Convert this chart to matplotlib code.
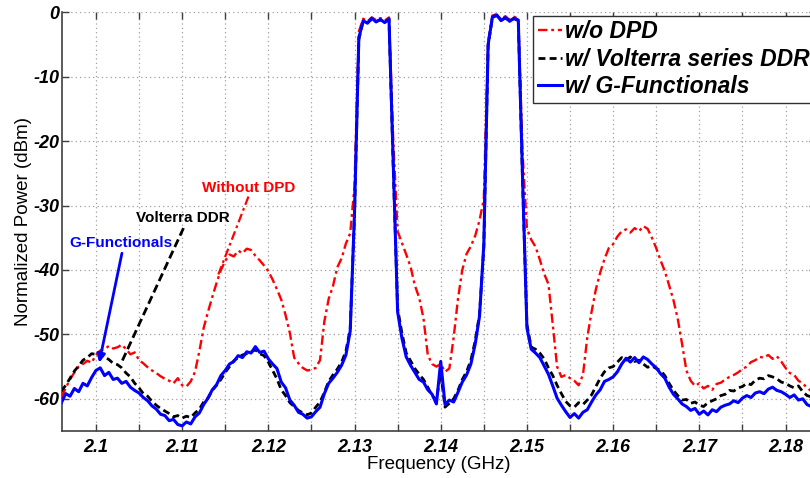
import numpy as np
import matplotlib
matplotlib.use("Agg")
import matplotlib.pyplot as plt

# Sweep grid of the spectrum analyser (GHz), 0.5 MHz steps
freq_start = 2.096
freq_step = 0.0005

# Measured output spectra (dBm, normalized), one row per 5 MHz
without_dpd = [
    -59.8, -58.3, -57.0, -55.9, -55.0, -54.6, -54.1, -54.4,
    -53.2, -52.5, -52.3, -51.8, -52.2, -52.0, -51.6, -52.3, -53.1, -52.8,
    -54.0, -54.5, -55.1, -55.6, -56.0, -56.5, -56.9, -57.2, -57.6, -56.8,
    -57.9, -58.1, -57.3, -55.8, -52.6, -49.0, -46.5, -44.2, -42.0, -40.0,
    -38.6, -37.6, -37.9, -37.0, -37.4, -36.7, -36.9, -37.8, -38.5, -39.3,
    -40.2, -41.5, -43.0, -44.6, -47.0, -49.8, -53.6, -54.5, -55.2, -55.6,
    -55.5, -55.2, -54.0, -48.0, -44.5, -42.5, -39.6, -38.2, -35.9, -34.3,
    -27.0, -3.0, -1.0, -1.4, -0.8, -1.2, -0.9, -1.3, -0.8, -20.0,
    -34.0, -35.8, -37.6, -39.5, -42.4, -44.3, -47.5, -53.2, -54.6, -55.0,
    -54.6, -55.8, -55.3, -50.5, -44.5, -40.0, -37.5, -36.3, -34.7, -32.3,
    -29.0, -4.5, -0.5, -0.3, -1.1, -0.6, -1.2, -0.7, -1.0, -22.0,
    -33.5, -35.3, -36.4, -38.4, -40.6, -42.2, -48.5, -55.0, -56.6, -56.3,
    -56.8, -57.2, -57.9, -56.3, -50.5, -46.5, -43.0, -40.4, -38.3, -36.6,
    -36.0, -34.8, -34.0, -33.7, -34.2, -33.5, -34.0, -33.2, -33.6, -35.0,
    -36.6, -38.5, -40.2, -42.4, -44.7, -47.6, -51.5, -55.6, -57.2, -58.0,
    -57.6, -58.4, -58.0, -58.6, -57.7, -57.5, -57.0, -56.6, -56.3, -55.9,
    -55.4, -55.0, -54.3, -54.0, -53.5, -53.6, -53.2, -53.8, -53.4, -54.2,
    -55.2, -56.0, -56.3, -57.2, -57.6, -58.3, -58.8, -59.4,
]

volterra_ddr = [
    -58.8, -57.9, -56.8, -55.7, -54.9, -54.0, -53.6, -53.0,
    -53.1, -52.8, -53.5, -53.9, -54.5, -54.7, -55.2, -56.0, -56.6, -57.6,
    -58.3, -59.2, -59.6, -60.4, -61.0, -61.5, -61.9, -62.3, -62.8, -62.6,
    -63.0, -62.7, -62.9, -62.2, -61.6, -60.5, -59.9, -58.7, -57.9, -57.0,
    -55.9, -55.0, -54.1, -53.6, -53.2, -53.0, -52.7, -52.4, -53.0, -53.3,
    -54.3, -55.6, -56.9, -58.6, -59.5, -60.6, -61.2, -61.8, -62.2, -62.5,
    -62.2, -61.3, -60.5, -59.0, -57.3, -56.3, -55.4, -54.3, -52.6, -49.2,
    -31.5, -4.2, -1.4, -1.6, -1.1, -1.4, -1.2, -1.5, -1.1, -24.5,
    -46.0, -49.8, -52.9, -54.1, -55.3, -56.2, -57.0, -58.2, -59.5, -60.2,
    -56.0, -61.3, -60.7, -60.0, -58.7, -57.0, -55.8, -54.0, -51.0, -46.9,
    -36.5, -5.2, -0.8, -0.5, -1.2, -0.9, -1.3, -1.0, -1.3, -26.5,
    -48.5, -52.0, -52.3, -52.9, -53.8, -55.2, -56.4, -57.9, -59.2, -60.4,
    -61.1, -61.3, -60.6, -60.9, -60.2, -59.4, -58.1, -56.8, -55.8, -55.2,
    -55.0, -54.3, -53.6, -54.0, -53.5, -54.2, -54.0, -54.6, -55.1, -54.9,
    -55.3, -55.6, -56.4, -57.6, -58.7, -59.5, -60.2, -60.1, -60.7, -60.5,
    -61.0, -61.2, -60.6, -60.3, -60.0, -59.5, -59.3, -58.7, -58.8, -58.3,
    -58.1, -57.6, -57.8, -57.1, -56.8, -56.9, -56.4, -56.6, -56.9, -57.4,
    -57.6, -58.0, -58.3, -58.0, -58.9, -59.5, -59.7, -60.3,
]

g_functionals = [
    -60.6, -59.2, -59.6, -58.4, -58.9, -57.6, -58.0, -56.7,
    -55.6, -55.2, -56.4, -55.9, -57.0, -56.8, -57.6, -57.3, -58.2, -58.7,
    -59.1, -59.8, -60.3, -61.1, -61.6, -62.4, -62.6, -63.4, -63.2, -64.0,
    -64.2, -63.6, -63.9, -62.8, -62.2, -60.9, -59.9, -58.6, -57.8, -56.4,
    -55.6, -54.6, -54.2, -53.3, -53.6, -52.7, -52.9, -51.9, -52.8, -52.6,
    -53.8, -54.6, -55.3, -57.4, -58.3, -60.2, -61.0, -62.1, -62.4, -63.0,
    -62.8, -62.0, -61.3, -59.2, -57.6, -56.8, -55.9, -54.8, -53.2, -49.5,
    -31.0, -4.0, -1.3, -1.7, -0.9, -1.5, -1.1, -1.6, -1.0, -24.0,
    -46.5, -50.6, -53.5, -54.8, -55.9, -57.0, -57.4, -58.6, -59.3, -60.8,
    -54.2, -60.9, -60.2, -60.5, -59.0, -57.4, -56.3, -54.6, -51.5, -47.2,
    -36.0, -5.0, -0.7, -0.4, -1.3, -0.8, -1.4, -0.9, -1.2, -26.0,
    -49.0, -52.3, -52.9, -53.6, -54.9, -56.2, -58.0, -59.9, -61.0, -62.0,
    -62.9, -62.3, -63.0, -62.1, -61.7, -60.5, -59.4, -58.6, -57.3, -57.0,
    -56.6, -55.8, -54.6, -53.7, -54.3, -53.6, -54.4, -53.5, -53.9, -54.6,
    -55.2, -56.1, -56.8, -58.2, -59.3, -60.0, -60.8, -61.2, -61.8, -61.5,
    -62.4, -61.9, -62.5, -61.7, -62.0, -61.3, -61.0, -60.8, -60.3, -60.6,
    -59.9, -59.5, -59.8, -59.1, -58.9, -59.2, -58.5, -58.2, -58.7, -58.9,
    -59.3, -59.8, -59.4, -60.2, -60.0, -60.9, -61.2, -61.6,
]

legend_labels = ["w/o DPD", "w/ Volterra series DDR", "w/ G-Functionals"]
x_tick_values = [2.100, 2.105, 2.110, 2.115, 2.120, 2.125, 2.130, 2.135,
                 2.140, 2.145, 2.150, 2.155, 2.160, 2.165, 2.170, 2.175, 2.180]
x_tick_labels = ["2.1", "", "2.11", "", "2.12", "", "2.13", "", "2.14", "",
                 "2.15", "", "2.16", "", "2.17", "", "2.18"]
y_tick_values = [-60, -50, -40, -30, -20, -10, 0]
y_tick_labels = ["-60", "-50", "-40", "-30", "-20", "-10", "0"]

freq = freq_start + freq_step * np.arange(len(g_functionals))

plt.rcParams["font.family"] = ["Liberation Sans", "DejaVu Sans"]

W, H = 810, 478
fig = plt.figure(figsize=(W / 100, H / 100), dpi=100)
ax_left, ax_bottom = 62.3, 431.0
ax_w, ax_h = 753.4, 431.0 - 12.3
ax = fig.add_axes([ax_left / W, 1 - ax_bottom / H, ax_w / W, ax_h / H])

l1, = ax.plot(freq, without_dpd, color="#ff0000", lw=1.7,
              linestyle=(0, (4, 1.6, 1.2, 1.6)), zorder=3)
l2, = ax.plot(freq, volterra_ddr, color="black", lw=2.0,
              linestyle=(0, (2.5, 1.5)), zorder=4)
l3, = ax.plot(freq, g_functionals, color="#0000ff", lw=2.2, zorder=5)

ax.set_xlim(2.0961, 2.0961 + ax_w / 8620)
ax.set_ylim(-65, 0)

ax.set_xticks(x_tick_values)
ax.set_xticklabels(x_tick_labels, fontsize=13, fontweight="bold", style="italic")
ax.set_yticks(y_tick_values)
ax.set_yticklabels(y_tick_labels, fontsize=13, fontweight="bold", style="italic")
ax.tick_params(axis="both", direction="in", length=5, width=1, color="#404040",
               top=True, right=True)
ax.tick_params(axis="x", pad=6)
ax.tick_params(axis="y", pad=2)

ax.grid(True, linestyle=(0, (1, 2.5)), color="#a0a0a0", lw=0.9)
for side in ["top", "right"]:
    ax.spines[side].set_visible(False)
for side in ["left", "bottom"]:
    ax.spines[side].set_color("#404040")
    ax.spines[side].set_linewidth(1.2)

ax.set_xlabel("Frequency (GHz)", fontsize=13.5, labelpad=0)
ax.set_ylabel("Normalized Power (dBm)", fontsize=13.5, labelpad=1)

# Callouts
ax.annotate("", xy=(2.10038, -54.4), xytext=(2.10302, -37.4),
            arrowprops=dict(arrowstyle="-|>", color="#0000ff", lw=2,
                            mutation_scale=12, shrinkA=0, shrinkB=0), zorder=6)
ax.plot([2.11016, 2.10302], [-33.5, -54.2], color="black", lw=2,
        linestyle=(0, (3, 1.5)), zorder=6)
ax.plot([2.1177, 2.1142], [-28.6, -40.7], color="#ff0000", lw=1.6,
        linestyle=(0, (4, 1.6, 1.2, 1.6)), zorder=6)
ax.text(2.10295, -35.8, "G-Functionals", color="#0000ff", fontsize=11,
        fontweight="bold", ha="center", va="center")
ax.text(2.1101, -31.9, "Volterra DDR", color="black", fontsize=11,
        fontweight="bold", ha="center", va="center")
ax.text(2.1177, -27.2, "Without DPD", color="#ff0000", fontsize=11,
        fontweight="bold", ha="center", va="center")

leg = ax.legend([l1, l2, l3], legend_labels, loc="upper left",
                bbox_to_anchor=(533 / W, 1 - 15.7 / H),
                bbox_transform=fig.transFigure,
                prop=dict(family="Liberation Sans", weight="bold",
                          style="italic", size=16.5),
                handlelength=1.05, handletextpad=0.15, labelspacing=0.2,
                borderpad=0.2, borderaxespad=0, fancybox=False,
                framealpha=1, edgecolor="#303030")
leg.get_frame().set_linewidth(1.0)
leg.set_zorder(10)

fig.savefig("out.png", dpi=100)
